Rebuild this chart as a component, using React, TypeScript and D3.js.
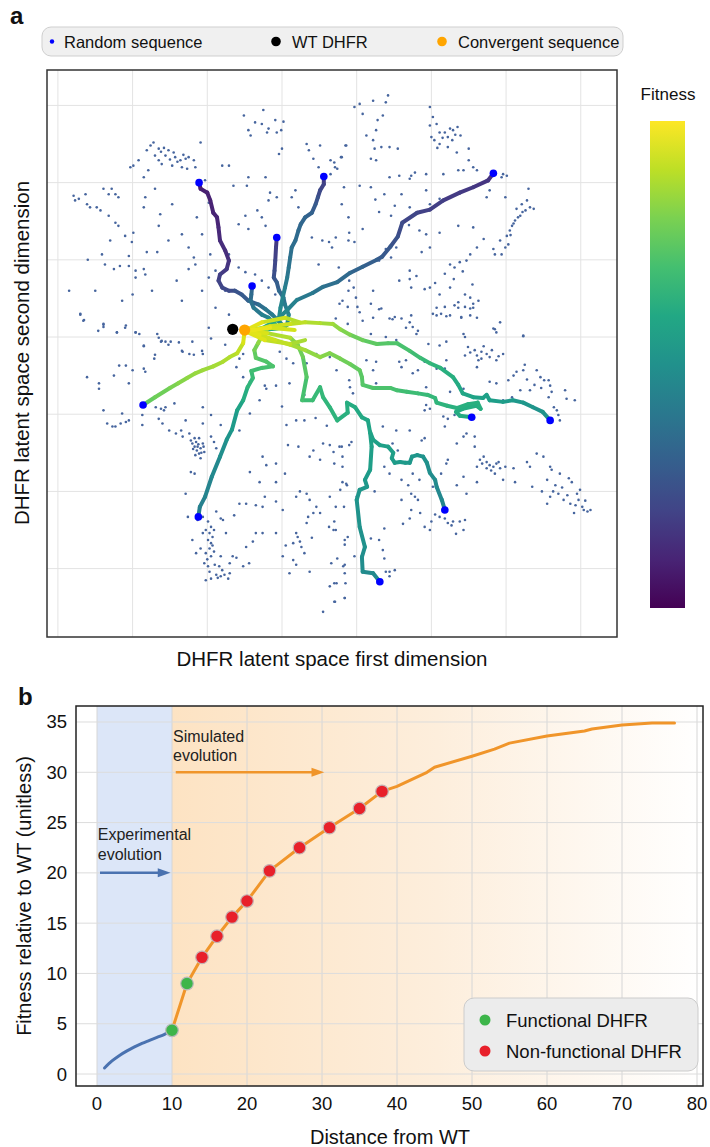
import React from 'react';
import * as d3 from 'd3';

// ---------------- Panel a data (latent-space units; grid at integer values) ----------------
const gridXA = [-3, -2, -1, 0, 1, 2, 3, 4];
const gridYA = [-3, -2, -1, 0, 1, 2, 3];

const legendALabels = ['Random sequence', 'WT DHFR', 'Convergent sequence'];

const randomSeq: [number, number][] = [
  [-0.51,2.87],[-0.25,2.94],[-0.36,2.78],[-0.27,2.76],[-0.18,2.70],[-0.09,2.81],[0.02,2.79],[-0.45,2.68],[-0.42,2.61],[-0.20,2.65],[-0.07,2.65],[-0.01,2.68],
  [-1.72,2.52],[-1.76,2.48],[-1.81,2.42],[-1.65,2.44],[-1.58,2.45],[-1.52,2.42],[-1.45,2.39],[-1.56,2.35],[-1.43,2.33],[-1.36,2.29],[-1.29,2.31],[-1.25,2.33],[-1.18,2.29],[-1.09,2.52],[-1.65,2.29],[-1.61,2.24],[-1.47,2.22],[-1.34,2.20],[-1.27,2.18],[-1.16,2.20],[-1.92,2.29],[-1.99,2.22],[-2.03,2.20],[-1.85,2.07],[-1.79,2.16],[-0.80,2.22],[-0.71,2.22],
  [-2.79,1.83],[-2.77,1.77],[-2.72,1.79],[-2.63,1.85],[-2.61,1.72],[-2.57,1.68],[-2.48,1.68],[-2.43,1.64],[-2.32,1.85],[-2.39,1.92],[-2.28,1.92],[-2.19,1.81],[-2.32,1.57],[-2.23,1.48],[-2.19,1.44],[-2.30,1.25],[-2.10,1.31],[-1.99,1.35],[-2.01,1.23],[-2.41,1.07],[-2.05,1.05],[-2.37,0.94],[-2.25,0.88],[-2.17,0.92],[-2.05,0.92],[-1.96,0.86],[-1.85,0.88],[-1.83,0.81],[-1.96,0.77],[-1.67,1.10],[-1.81,1.10],[-1.65,1.44],[-1.63,1.59],[-1.47,1.72],[-1.83,1.81],[-1.70,1.92],[-1.85,1.68],[-1.52,1.25],[-1.34,1.33],[-1.25,1.16],[-1.18,1.03],[-1.16,0.94],[-1.25,0.88],[-1.41,0.73],[-1.74,0.60],[-2.14,0.47],[-2.70,0.29],[-2.66,0.21],[-2.39,0.16],[-2.10,0.12],[-2.21,0.06],[-1.96,0.06],[-2.46,0.08],[-2.23,1.85],[-1.03,2.03],[-0.98,1.74],[-1.14,1.55],[-1.07,1.33],[-0.96,1.07],[-0.98,0.77],[-1.07,0.60],[-0.89,0.86],[-0.71,1.07],
  [-0.65,1.96],[-0.47,1.96],[-0.45,2.07],[-0.22,2.07],[-0.16,1.87],[-0.07,1.81],[-0.18,1.77],[-0.49,1.57],[-0.33,1.64],[-0.27,1.55],[-0.58,1.46],[-0.45,1.40],[-0.22,1.44],[0.00,2.44],[-0.04,2.37],[0.18,1.90],[0.13,1.81],[0.22,1.68],[0.33,2.50],[0.36,2.42],[0.42,2.31],[0.65,2.29],[0.71,2.20],[0.80,2.33],[0.85,2.48],[0.51,2.48],[0.49,2.20],[0.65,2.11],[0.83,1.94],[0.40,1.29],[0.54,1.25],[0.63,1.23],[0.67,1.16],[0.89,1.55],[0.80,1.72],[0.49,0.94],[0.89,1.25],[0.76,0.90],[0.89,0.60],[0.96,0.64],
  [-0.58,0.90],[-0.49,0.84],[-0.36,0.81],[-0.27,0.73],[-0.18,0.64],[-0.09,0.55],[-0.54,0.55],[-0.76,0.60],[-0.89,0.38],[-0.71,0.29],[-0.98,0.12],[-1.34,0.47],[-1.65,-0.01],[-1.61,-0.05],[-1.52,-0.10],[-1.38,-0.07],[-1.34,-0.18],[-1.18,-0.23],[-1.70,-0.23],[-1.85,-0.12],[-0.76,-0.10],[-1.07,-0.18],
  [0.97,2.98],[1.04,3.02],[1.08,2.89],[1.22,3.06],[1.39,3.04],[1.42,3.13],[1.35,2.87],[1.28,2.81],[1.26,2.68],[1.22,2.55],[1.24,2.44],[1.19,2.31],[1.26,2.29],[1.33,2.46],[1.44,2.46],[1.55,2.44],[1.13,2.61],[0.86,2.48],[0.79,2.33],[0.70,2.26],[0.74,2.18],
  [1.98,2.98],[2.02,2.85],[1.98,2.74],[2.07,2.76],[2.00,2.59],[2.04,2.55],[2.11,2.65],[2.18,2.65],[2.22,2.59],[2.28,2.55],[2.35,2.72],[2.39,2.61],[2.29,2.68],[2.11,2.50],[2.22,2.46],[2.34,2.39],[2.50,2.44],[2.50,2.29],[2.56,2.20],[2.61,2.16],[2.36,2.16],[2.43,2.16],[1.78,2.13],[1.93,2.11],[1.73,2.09],[1.57,2.09],[1.44,2.07],[1.71,2.05],[2.16,2.11],
  [2.94,2.07],[3.01,2.09],[2.96,2.11],[2.74,2.03],[2.78,1.90],[2.74,1.81],[2.99,1.81],[3.30,1.92],[3.21,1.72],[3.28,1.77],[3.32,1.68],[3.26,1.64],[3.19,1.57],[3.12,1.51],[3.08,1.44],[3.05,1.38],[3.01,1.31],[3.03,1.20],[2.99,1.16],[2.94,1.07],[2.85,1.07],[2.92,1.25],[3.14,1.66],[3.37,1.66],
  [1.04,1.96],[1.19,1.94],[1.37,1.85],[1.46,1.57],[1.51,1.70],[1.71,1.68],[1.93,1.90],[1.98,1.72],[2.11,1.79],[2.36,1.44],[2.56,1.42],[2.70,1.27],[2.83,1.14],[2.61,1.16],[2.52,1.07],[2.47,0.99],[2.38,0.97],[2.31,0.90],[2.25,0.94],[1.08,1.40],[0.90,1.35],[0.72,1.29],[0.97,1.23],[1.39,1.14],[1.53,1.16],[1.84,1.38],[1.93,1.33],[2.11,1.35],[1.98,1.16],[1.87,1.10],[1.46,1.03],[1.30,0.99],[1.71,0.86],[1.80,0.79],[1.57,0.73],[1.71,0.75],[1.73,0.64],[1.91,0.62],[1.98,0.64],[2.11,0.55],[2.25,0.64],[2.45,0.55],[2.52,0.51],[2.63,0.47],[2.07,0.38],[2.20,0.27],[2.36,0.38],[2.40,0.25],[2.56,0.38],[2.61,0.25],[1.22,0.60],[1.30,0.36],[1.08,0.21],[1.48,0.23],[1.66,0.12],[1.82,0.08],[2.85,0.10],[3.23,0.01],[2.92,0.19],[0.90,0.73],[0.81,0.47],[0.99,0.51],[1.22,0.25],
  [-2.70,0.30],[-2.65,0.22],[-2.39,0.17],[-2.39,0.13],[-2.21,0.06],[-2.09,0.15],[-1.96,0.06],[-1.91,0.04],[-1.67,0.04],[-1.62,-0.06],[-1.56,-0.06],[-1.49,-0.06],[-1.20,-0.06],[-1.33,-0.19],[-1.24,-0.22],[-1.06,-0.22],[-0.95,-0.02],[-1.85,-0.11],
  [-2.61,-0.52],[-2.45,-0.60],[-2.45,-0.67],[-2.25,-0.50],[-2.18,-0.37],[-2.09,-0.37],[-2.00,-0.43],[-2.05,-0.60],[-1.85,-0.41],[-1.83,-0.45],[-1.71,-0.28],[-1.44,-0.86],[-1.62,-0.93],[-1.58,-0.95],[-1.56,-0.91],[-2.39,-0.95],[-2.34,-1.12],[-2.27,-1.16],[-2.23,-1.16],[-2.16,-1.12],[-2.09,-1.10],[-2.05,-1.08],[-2.14,-0.99],[-1.87,-1.01],[-1.87,-1.14],[-1.65,-1.06],[-1.60,-1.12],[-1.69,-0.91],
  [-1.51,-1.21],[-1.42,-1.25],[-1.35,-1.21],[-1.33,-1.29],[-1.29,-1.08],[-1.24,-1.25],[-1.22,-1.34],[-1.20,-1.38],[-1.17,-1.42],[-1.15,-1.36],[-1.11,-1.31],[-1.13,-1.42],[-1.09,-1.44],[-1.06,-1.38],[-1.04,-1.49],[-1.11,-1.51],[-1.09,-1.57],[-1.17,-1.31],[-0.95,-1.29],[-0.91,-1.36],[-0.88,-1.44],[-1.22,-1.75],[-1.17,-1.77],[-1.29,-2.03],[-1.06,-1.12],[-1.06,-0.91],[-0.95,-1.01],[-0.82,-1.14],[-0.70,-1.27],[-0.57,-1.21],[-0.43,-0.99],[-0.30,-0.82],[-0.23,-0.63],[-0.08,-0.63],[-0.21,-0.67],[-0.43,-0.58],[-0.52,-0.52],[-0.57,-0.28],[-0.61,-0.39],[-0.52,-0.22],
  [-0.03,-0.19],[0.06,-0.28],[0.15,-0.34],[0.33,-0.34],[0.46,-0.22],[0.64,-0.26],[0.73,-0.43],[0.91,-0.65],[0.06,-1.14],[0.19,-1.08],[0.30,-1.08],[0.08,-1.40],[0.22,-1.42],[0.42,-1.47],[0.55,-1.38],[0.64,-1.40],[0.69,-1.49],[0.80,-1.42],[0.93,-1.36],[0.37,-1.55],[0.51,-1.59],[-0.26,-1.55],[-0.21,-1.66],[-0.43,-1.75],[-0.30,-1.88],[-0.08,-1.64],[0.04,-1.77],[-0.08,-1.88],[-0.23,-2.07],[-0.35,-2.18],[-0.26,-2.20],[-0.08,-2.13],[0.01,-2.24],[0.19,-2.07],[0.24,-2.00],[0.33,-2.03],[0.37,-2.11],[0.42,-2.28],[0.35,-2.33],[0.33,-2.41],[0.46,-2.20],[0.51,-2.28],[0.64,-2.07],[0.78,-1.98],[0.87,-1.92],[1.00,-2.07],
  [0.19,-2.54],[0.21,-2.59],[0.24,-2.65],[0.26,-2.72],[0.15,-2.67],[0.15,-2.89],[0.19,-2.95],[0.10,-3.06],[0.01,-2.84],[-0.08,-2.54],[-0.26,-2.54],[-0.35,-2.54],[-0.39,-2.65],[-0.48,-2.72],[-0.44,-2.93],[-0.52,-2.97],[-0.70,-2.93],[-0.66,-2.84],[-0.61,-2.86],[-0.79,-2.37],[-0.75,-2.54],[-0.57,-2.16],[-0.64,-2.31],[-0.48,-2.16],[-0.82,-2.84],
  [0.64,-3.23],[0.71,-3.43],[0.55,-3.56],[0.84,-3.38],[0.73,-3.19],[0.37,-3.04],[0.66,-2.93],[0.82,-2.97],[0.84,-3.06],[0.69,-2.50],[0.84,-2.63],
  [-1.06,-2.33],[-0.99,-2.39],[-0.95,-2.46],[-1.02,-2.50],[-0.97,-2.54],[-0.93,-2.59],[-0.99,-2.63],[-0.95,-2.67],[-0.97,-2.74],[-1.02,-2.80],[-0.95,-2.84],[-1.04,-2.93],[-0.99,-2.97],[-0.97,-3.04],[-0.88,-3.08],[-0.82,-3.10],[-0.77,-3.08],[-0.70,-3.06],[-0.72,-3.13],[-0.95,-3.13],[-0.84,-2.97],[-1.06,-2.54],[-0.91,-2.78],[-1.09,-2.74],[-0.82,-2.35],[-1.20,-2.63],[-1.15,-2.80],[-1.26,-2.33],[-0.91,-2.50],[-1.02,-3.15],[-0.88,-2.26],[-1.13,-2.37],
  [0.77,0.43],[0.88,0.39],[1.01,0.39],[1.19,0.43],[1.33,0.37],[1.44,0.24],[1.51,0.26],[1.60,0.24],[1.73,0.28],[1.71,0.19],[1.75,0.13],[2.02,0.30],[2.07,0.28],[2.13,0.30],[2.18,0.39],[2.25,0.28],[2.31,0.41],[2.36,0.45],[2.45,0.39],[2.52,0.37],[2.56,0.43],[2.40,0.26],[2.52,0.28],[2.83,0.11],[2.87,0.06],[3.23,0.02],[0.72,0.24],[1.04,0.32],[0.88,0.17],[1.19,0.04],[1.39,0.00],[1.53,-0.04],[1.80,0.04],[1.96,-0.09],[2.11,-0.11],[2.20,-0.06],[2.43,0.04],[2.45,0.00],
  [2.49,-0.13],[2.58,-0.17],[2.67,-0.19],[2.74,-0.22],[2.67,-0.28],[2.61,-0.24],[2.78,-0.26],[2.87,-0.30],[2.96,-0.22],[2.45,-0.24],[2.20,-0.30],[2.18,-0.41],[2.07,-0.41],[1.91,-0.32],[1.57,-0.32],[1.60,-0.39],[2.61,-0.39],[2.78,-0.58],[2.87,-0.60],[3.03,-0.56],[3.23,-0.43],[3.14,-0.45],[3.41,-0.43],[3.46,-0.52],[3.51,-0.56],[3.57,-0.56],[3.59,-0.63],[3.61,-0.71],[3.57,-0.78],[3.64,-0.91],[3.68,-0.95],[3.70,-1.01],[3.72,-1.08],[3.79,-0.69],[3.81,-0.80],[3.92,-0.82],[3.32,-0.69],[3.19,-0.69],[3.08,-0.78],[2.96,-0.82],[2.43,-0.67],[2.25,-0.71],[1.93,-0.65],[1.82,-0.43],[1.75,-0.47],
  [1.98,-0.93],[1.93,-0.88],[1.91,-0.95],[2.16,-1.03],[2.22,-1.06],[2.31,-1.01],[2.18,-1.16],[2.43,-1.29],[2.47,-1.25],[2.58,-1.29],[2.58,-1.42],[2.70,-1.55],[2.65,-1.59],[2.74,-1.62],[2.83,-1.68],[2.87,-1.64],[2.92,-1.70],[2.85,-1.77],[2.99,-1.68],[3.10,-1.70],[2.74,-1.70],[2.61,-1.68],[3.12,-1.88],[3.28,-1.62],[3.32,-1.68],[3.41,-1.51],[3.50,-1.55],[3.59,-1.68],[3.61,-1.72],[3.72,-1.77],[3.84,-1.83],[3.88,-1.88],[3.55,-1.85],[3.35,-1.94],[3.48,-2.00],[3.63,-2.00],[3.70,-2.03],[3.59,-2.07],[3.77,-2.11],[3.86,-2.16],[3.95,-2.03],[3.97,-2.11],[4.02,-2.20],[4.04,-2.24],[4.09,-2.26],[4.13,-2.24],[3.91,-2.28],[3.99,-1.98],[3.55,-2.16],[2.96,-1.85],[2.61,-1.88],[2.43,-1.81],[2.34,-1.92],[2.47,-2.03],[2.34,-1.38],[2.20,-1.64],[2.22,-1.59],[2.13,-1.77],[2.02,-1.94],
  [1.78,-2.07],[1.82,-2.11],[1.73,-2.24],[1.71,-2.35],[1.91,-2.46],[1.98,-2.50],[2.00,-2.39],[2.18,-2.35],[2.22,-2.41],[2.27,-2.44],[2.29,-2.39],[2.38,-2.39],[2.45,-2.37],[2.43,-2.50],[2.11,-2.33],[1.60,-2.11],[1.73,-2.03],[1.35,-1.16],[1.53,-1.21],[1.71,-1.21],[1.87,-1.34],[1.91,-1.31],[1.48,-1.38],[1.55,-1.47],[1.44,-1.77],[1.37,-1.68],[1.24,-2.00],[1.60,-1.85],[1.69,-1.92],[1.75,-1.77],[1.84,-1.85],[1.37,-2.48],[1.30,-2.63],[1.19,-2.61],[1.35,-2.76],[1.37,-2.87],[1.08,-2.89],[0.97,-2.84],[0.88,-2.59],[0.84,-2.69],[0.74,-2.87],[0.84,-2.95],[0.70,-3.19],[0.85,-3.19],[0.84,-3.38],[0.70,-3.43],[1.39,-3.04],[1.44,-3.04],[1.51,-3.02],[1.44,-3.10],
  [0.77,-1.42],[0.90,-1.40],[0.81,-1.55],[0.81,-1.68],[0.70,-1.64],[0.86,-1.90],[0.81,-1.88],[0.72,-2.20],[0.83,-2.20],[0.70,-2.39],[0.63,-2.46],[0.72,-2.50],[0.90,-0.56],[0.95,-0.73],[1.26,-0.60],[1.35,-0.67],[1.66,-0.30],[1.13,-0.30],[1.26,-0.32],[1.22,-0.43],
  [2.52,-0.20],[2.70,-0.12],[2.81,-0.17],[2.90,-0.25],[2.63,-0.30],[3.10,-0.50],[3.28,-0.55],[3.38,-0.62],[3.47,-0.66],[3.25,-0.36],
  [-1.14,-1.47],[-1.08,-1.50],[-1.19,-1.45],[-1.12,-1.39],[-1.05,-1.42],[-1.16,-1.53],[-0.93,-2.70],[-1.00,-2.88],[-0.90,-2.95],[-0.80,-3.02],[-0.86,-3.12],
  [-1.50,2.30],[-1.40,2.27],[-1.62,2.40],[-1.70,2.35],[-1.32,2.36],[2.15,2.58],[2.25,2.70],[2.32,2.62],[2.08,2.45],[3.16,1.55],[3.22,1.62],[3.10,1.47],[3.06,1.32],
  [3.75,-1.95],[3.82,-2.05],[3.93,-2.18],[4.06,-2.12],[3.66,-1.92],[2.78,-1.66],[2.90,-1.62],[2.80,-1.73],[2.68,-1.64],
  [2.30,0.75],[2.42,0.85],[2.18,0.82],[2.05,0.70],[2.55,0.68],[1.30,1.62],[1.60,1.85],[1.70,1.45],[1.25,1.78],
  [-2.50,0.60],[-2.60,1.00],[-2.85,0.60],[-2.00,0.55],[0.10,-0.60],[0.30,-0.75],[0.45,-1.05],[0.00,-0.90],[0.60,-1.15],
  [1.85,-2.28],[2.05,-2.30],[1.62,-2.42],[2.33,-2.55],[0.30,-2.80],[0.40,-2.60],[0.05,-2.70],
];

// trajectories: [x, y, fitness] from random start (blue dot) towards the convergent sequence
const traj1: [number, number, number][] = [
  [-1.11,2.00,0.08],[-1.09,1.92,0.08],[-1.00,1.87,0.09],[-0.96,1.77,0.09],[-0.92,1.61,0.10],[-0.87,1.55,0.10],[-0.85,1.42,0.11],[-0.83,1.25,0.12],[-0.76,1.12,0.13],[-0.71,0.99,0.14],[-0.74,0.88,0.16],[-0.83,0.81,0.18],[-0.85,0.73,0.19],[-0.80,0.64,0.21],[-0.71,0.60,0.22],[-0.63,0.60,0.24],[-0.54,0.55,0.27],[-0.45,0.47,0.30],[-0.31,0.42,0.34],[-0.22,0.36,0.38],[-0.13,0.29,0.41],[-0.07,0.23,0.43],[0.00,0.16,0.45],[0.04,0.12,0.48],[-0.20,0.10,0.72],[-0.50,0.08,0.95],
];
const traj2: [number, number, number][] = [
  [-0.40,0.66,0.32],[-0.41,0.55,0.34],[-0.42,0.47,0.36],[-0.38,0.38,0.39],[-0.27,0.29,0.42],[-0.18,0.25,0.45],[-0.09,0.16,0.48],[-0.25,0.10,0.75],[-0.50,0.08,0.95],
];
const traj3: [number, number, number][] = [
  [-0.07,1.29,0.16],[-0.08,1.16,0.18],[-0.09,0.99,0.20],[-0.10,0.86,0.23],[-0.11,0.77,0.25],[-0.07,0.71,0.28],[-0.04,0.60,0.32],[0.02,0.51,0.36],[0.04,0.42,0.40],[0.09,0.29,0.44],[0.07,0.16,0.48],[-0.20,0.11,0.72],[-0.50,0.08,0.95],
];
const traj4: [number, number, number][] = [
  [0.56,2.08,0.17],[0.56,1.98,0.19],[0.51,1.90,0.21],[0.48,1.81,0.24],[0.45,1.72,0.27],[0.40,1.61,0.30],[0.31,1.55,0.32],[0.25,1.46,0.33],[0.22,1.38,0.34],[0.18,1.25,0.35],[0.13,1.16,0.36],[0.11,1.03,0.37],[0.09,0.90,0.38],[0.07,0.77,0.40],[0.04,0.64,0.42],[0.01,0.51,0.44],[-0.02,0.38,0.46],[-0.04,0.25,0.48],[-0.02,0.12,0.50],[-0.25,0.09,0.75],[-0.50,0.08,0.95],
];
const traj5: [number, number, number][] = [
  [2.83,2.12,0.14],[2.76,2.03,0.15],[2.56,1.94,0.16],[2.38,1.87,0.17],[2.16,1.77,0.18],[1.98,1.65,0.19],[1.81,1.61,0.20],[1.61,1.48,0.22],[1.55,1.30,0.24],[1.45,1.17,0.26],[1.34,1.04,0.28],[1.27,1.00,0.29],[1.08,0.91,0.31],[0.91,0.83,0.33],[0.74,0.71,0.35],[0.55,0.65,0.37],[0.41,0.57,0.39],[0.20,0.48,0.42],[0.07,0.35,0.45],[-0.07,0.22,0.48],[-0.25,0.12,0.72],[-0.50,0.08,0.95],
];
const traj6: [number, number, number][] = [
  [-1.86,-0.88,0.76],[-1.70,-0.78,0.77],[-1.50,-0.66,0.79],[-1.39,-0.60,0.81],[-1.27,-0.53,0.83],[-1.16,-0.47,0.84],[-1.06,-0.43,0.85],[-0.92,-0.38,0.86],[-0.79,-0.32,0.87],[-0.70,-0.26,0.88],[-0.60,-0.21,0.89],[-0.52,-0.08,0.92],[-0.50,0.08,0.97],
];
const traj7: [number, number, number][] = [
  [-1.12,-2.33,0.42],[-1.10,-2.20,0.43],[-1.03,-2.07,0.44],[-0.94,-1.81,0.46],[-0.83,-1.55,0.48],[-0.74,-1.33,0.51],[-0.67,-1.20,0.53],[-0.60,-0.95,0.56],[-0.52,-0.82,0.60],[-0.46,-0.65,0.64],[-0.39,-0.53,0.67],[-0.41,-0.44,0.69],[-0.27,-0.40,0.70],[-0.12,-0.38,0.71],[-0.21,-0.32,0.72],[-0.35,-0.27,0.74],[-0.37,-0.17,0.77],[-0.32,-0.08,0.81],[-0.27,0.01,0.86],[-0.40,0.06,0.92],[-0.50,0.08,0.97],
];
const traj8: [number, number, number][] = [
  [1.31,-3.17,0.47],[1.22,-3.06,0.47],[1.08,-3.04,0.48],[1.07,-2.85,0.49],[1.11,-2.72,0.50],[1.04,-2.46,0.51],[1.00,-2.11,0.52],[1.04,-1.98,0.53],[1.14,-1.94,0.53],[1.11,-1.85,0.54],[1.18,-1.72,0.55],[1.20,-1.42,0.57],[1.18,-1.24,0.58],[1.15,-1.08,0.59],[1.07,-1.04,0.60],[0.98,-0.91,0.61],[0.87,-0.85,0.62],[0.88,-0.98,0.63],[0.74,-1.08,0.64],[0.64,-0.91,0.65],[0.55,-0.78,0.66],[0.51,-0.65,0.67],[0.41,-0.82,0.68],[0.27,-0.82,0.69],[0.33,-0.52,0.72],[0.28,-0.26,0.76],[0.21,-0.10,0.80],[0.11,-0.01,0.84],[-0.20,0.05,0.92],[-0.50,0.08,0.97],
];
const traj9: [number, number, number][] = [
  [2.18,-2.24,0.45],[2.14,-2.11,0.46],[2.07,-1.94,0.47],[2.05,-1.85,0.48],[1.98,-1.76,0.49],[1.94,-1.63,0.50],[1.89,-1.55,0.51],[1.81,-1.53,0.52],[1.74,-1.55,0.53],[1.71,-1.63,0.53],[1.65,-1.63,0.54],[1.58,-1.62,0.54],[1.51,-1.63,0.55],[1.47,-1.57,0.55],[1.49,-1.50,0.56],[1.42,-1.42,0.56],[1.31,-1.40,0.57],[1.22,-1.33,0.57],[1.18,-1.23,0.58],
];
const traj10: [number, number, number][] = [
  [2.54,-1.04,0.60],[2.38,-1.02,0.61],[2.33,-0.97,0.61],[2.42,-0.93,0.62],[2.60,-0.89,0.62],[2.66,-0.93,0.62],[2.62,-0.85,0.63],[2.49,-0.87,0.63],[2.34,-0.92,0.63],[2.21,-0.89,0.64],[2.07,-0.85,0.65],[2.05,-0.79,0.66],[1.95,-0.75,0.67],[1.82,-0.73,0.68],[1.67,-0.71,0.69],[1.54,-0.69,0.70],[1.45,-0.66,0.71],[1.22,-0.66,0.72],[1.08,-0.62,0.73],[1.07,-0.52,0.74],[1.04,-0.43,0.75],[0.91,-0.35,0.77],[0.78,-0.28,0.79],[0.64,-0.21,0.81],[0.51,-0.26,0.82],[0.31,-0.17,0.85],[0.11,-0.10,0.88],[-0.09,-0.04,0.91],[-0.30,0.03,0.94],[-0.50,0.08,0.97],
];
const traj11: [number, number, number][] = [
  [3.59,-1.08,0.50],[3.49,-0.97,0.51],[3.36,-0.91,0.52],[3.23,-0.85,0.53],[3.09,-0.82,0.54],[2.96,-0.84,0.55],[2.78,-0.82,0.56],[2.74,-0.75,0.57],[2.69,-0.79,0.57],[2.56,-0.78,0.58],[2.42,-0.73,0.59],[2.36,-0.62,0.60],[2.29,-0.52,0.62],[2.12,-0.40,0.64],[1.98,-0.34,0.66],[1.85,-0.27,0.68],[1.71,-0.18,0.70],[1.54,-0.08,0.72],[1.42,-0.08,0.73],[1.27,-0.09,0.74],[1.08,-0.04,0.76],[0.91,0.03,0.79],[0.78,0.10,0.82],[0.68,0.17,0.85],[0.51,0.18,0.87],[0.31,0.19,0.89],[0.11,0.17,0.91],[-0.16,0.14,0.94],[-0.36,0.09,0.96],[-0.50,0.08,0.97],
];
const trajectories = [traj1, traj2, traj3, traj4, traj5, traj6, traj7, traj8, traj9, traj10, traj11];

// overlapping late-stage segments around the convergent sequence (no random start)
const hub1: [number, number, number][] = [[-0.50,0.08,0.97],[-0.27,0.19,0.94],[0.04,0.25,0.90],[0.24,0.19,0.88]];
const hub2: [number, number, number][] = [[-0.50,0.08,0.97],[-0.23,-0.04,0.93],[0.11,-0.09,0.88],[0.31,-0.04,0.86]];
const hub3: [number, number, number][] = [[-0.50,0.08,0.98],[-0.16,0.12,0.95],[0.17,0.09,0.91]];
const hubPaths = [hub1, hub2, hub3];

const wtDHFR: [number, number] = [-0.66, 0.10];
const convergentSeq: [number, number] = [-0.50, 0.09];

// ---------------- Panel b data ----------------
const distExperimental = [1, 2, 3, 4, 5, 6, 7, 8, 9, 10];
const fitExperimental = [0.6, 1.3, 1.85, 2.3, 2.7, 3.05, 3.35, 3.65, 3.95, 4.35];
const distSimulated = [10, 12, 14, 16, 18, 20, 23, 27, 31, 35, 38, 40, 44, 45, 50, 53, 55, 60, 65, 66, 70, 74, 77];
const fitSimulated = [4.35, 9.0, 11.6, 13.7, 15.6, 17.2, 20.2, 22.5, 24.5, 26.4, 28.1, 28.6, 30.0, 30.5, 31.6, 32.3, 32.9, 33.6, 34.1, 34.3, 34.7, 34.9, 34.9];
const functionalDist = [10, 12];
const functionalFit = [4.35, 9.0];
const nonFunctionalDist = [14, 16, 18, 20, 23, 27, 31, 35, 38];
const nonFunctionalFit = [11.6, 13.7, 15.6, 17.2, 20.2, 22.5, 24.5, 26.4, 28.1];
const xTicksB = [0, 10, 20, 30, 40, 50, 60, 70, 80];
const yTicksB = [0, 5, 10, 15, 20, 25, 30, 35];
const legendBLabels = ['Functional DHFR', 'Non-functional DHFR'];

const FONT = "'Liberation Sans', Arial, Helvetica, sans-serif";

export default function App() {
  // Panel a scales
  const xA = d3.scaleLinear().domain([-3.146, 4.485]).range([47, 617]);
  const yA = d3.scaleLinear().domain([-3.886, 3.459]).range([637, 70]);
  const segs: { x1: number; y1: number; x2: number; y2: number; f: number; k: string }[] = [];
  [...trajectories, ...hubPaths].forEach((t, ti) => {
    for (let i = 0; i < t.length - 1; i++) {
      segs.push({ x1: xA(t[i][0]), y1: yA(t[i][1]), x2: xA(t[i + 1][0]), y2: yA(t[i + 1][1]), f: (t[i][2] + t[i + 1][2]) / 2, k: `${ti}-${i}` });
    }
  });
  segs.sort((a, b) => a.f - b.f);
  const cbStops = d3.range(0, 1.0001, 0.1);
  const cbY = d3.scaleLinear().domain([1, 0]).range([121, 608]);

  // Panel b scales
  const xB = d3.scaleLinear().domain([-2.8, 80.8]).range([76, 703]);
  const yB = d3.scaleLinear().domain([-1.19, 36.59]).range([1086, 706]);
  const line = d3.line<[number, number]>().x(d => xB(d[0])).y(d => yB(d[1])).curve(d3.curveMonotoneX);
  const expPts = distExperimental.map((d, i) => [d, fitExperimental[i]] as [number, number]);
  const simPts = distSimulated.map((d, i) => [d, fitSimulated[i]] as [number, number]);

  return (
    <div style={{ position: 'absolute', left: 0, top: 0 }}>
      <svg width={710} height={1147} style={{ display: 'block', fontFamily: FONT }}>
        <defs>
          <linearGradient id="cb" x1="0" y1="0" x2="0" y2="1">
            {cbStops.map(s => (
              <stop key={s} offset={s} stopColor={d3.interpolateViridis(1 - s)} />
            ))}
          </linearGradient>
          <linearGradient id="orangeBg" x1="0" y1="0" x2="1" y2="0">
            <stop offset="0" stopColor="#fde3c3" />
            <stop offset="0.5" stopColor="#fdeedc" />
            <stop offset="1" stopColor="#ffffff" />
          </linearGradient>
          <clipPath id="clipA"><rect x={47} y={70} width={570} height={567} /></clipPath>
          <clipPath id="clipB"><rect x={76} y={706} width={627} height={380} /></clipPath>
        </defs>
        <rect x={0} y={0} width={710} height={1147} fill="#fff" />

        {/* ---------- Panel a ---------- */}
        <text x={10} y={24} fontSize={24} fontWeight="bold" fill="#111">a</text>
        <rect x={42} y={27} width={581} height={29} rx={9} fill="#f0f0f0" stroke="#cfcfcf" />
        <circle cx={52} cy={41.5} r={2.2} fill="#0000ff" />
        <text x={64} y={47.5} fontSize={16.5} fill="#111">{legendALabels[0]}</text>
        <circle cx={276} cy={41.5} r={4.8} fill="#000" />
        <text x={292} y={47.5} fontSize={16.5} fill="#111">{legendALabels[1]}</text>
        <circle cx={442} cy={41.5} r={4.8} fill="#ffa500" />
        <text x={458} y={47.5} fontSize={16.5} fill="#111">{legendALabels[2]}</text>

        <g>
          {gridXA.map(g => (
            <line key={'gx' + g} x1={xA(g)} x2={xA(g)} y1={70} y2={637} stroke="#e3e3e3" strokeWidth={1} />
          ))}
          {gridYA.map(g => (
            <line key={'gy' + g} x1={47} x2={617} y1={yA(g)} y2={yA(g)} stroke="#e3e3e3" strokeWidth={1} />
          ))}
        </g>
        <g clipPath="url(#clipA)">
          {randomSeq.map((p, i) => (
            <circle key={'r' + i} cx={xA(p[0])} cy={yA(p[1])} r={1.3} fill="#46659e" />
          ))}
          {segs.map(s => (
            <line key={s.k} x1={s.x1} y1={s.y1} x2={s.x2} y2={s.y2} stroke={d3.interpolateViridis(s.f)} strokeWidth={4} strokeLinecap="round" />
          ))}
          {trajectories.map((t, i) => (
            <circle key={'e' + i} cx={xA(t[0][0])} cy={yA(t[0][1])} r={3.8} fill="#0000ff" />
          ))}
          <circle cx={xA(wtDHFR[0])} cy={yA(wtDHFR[1])} r={5.6} fill="#000" />
          <circle cx={xA(convergentSeq[0])} cy={yA(convergentSeq[1])} r={5.6} fill="#ffa500" />
        </g>
        <rect x={47} y={70} width={570} height={567} fill="none" stroke="#333" strokeWidth={1.5} />
        <text x={332} y={666} fontSize={20.5} textAnchor="middle" fill="#111">DHFR latent space first dimension</text>
        <text transform={`translate(29,353) rotate(-90)`} fontSize={20.5} textAnchor="middle" fill="#111">DHFR latent space second dimension</text>

        <text x={668} y={100} fontSize={17} textAnchor="middle" fill="#111">Fitness</text>
        <rect x={650} y={cbY(1)} width={35} height={cbY(0) - cbY(1)} fill="url(#cb)" />

        {/* ---------- Panel b ---------- */}
        <text x={18} y={705} fontSize={24} fontWeight="bold" fill="#111">b</text>
        <g clipPath="url(#clipB)">
          <rect x={76} y={706} width={627} height={380} fill="#fff" />
          <rect x={xB(0)} y={706} width={xB(10) - xB(0)} height={380} fill="#dce6f8" />
          <rect x={xB(10)} y={706} width={703 - xB(10)} height={380} fill="url(#orangeBg)" />
          {xTicksB.map(t => (
            <line key={'bx' + t} x1={xB(t)} x2={xB(t)} y1={706} y2={1086} stroke="#d6d6d6" strokeWidth={1} />
          ))}
          {yTicksB.map(t => (
            <line key={'by' + t} x1={76} x2={703} y1={yB(t)} y2={yB(t)} stroke="#dcdcdc" strokeWidth={1} />
          ))}
          <path d={line(expPts) || ''} fill="none" stroke="#4a72b0" strokeWidth={3} strokeLinecap="round" />
          <path d={d3.line<[number, number]>().x(d => xB(d[0])).y(d => yB(d[1]))(simPts) || ''} fill="none" stroke="#f0952a" strokeWidth={3} strokeLinecap="round" strokeLinejoin="round" />
          {functionalDist.map((d, i) => (
            <circle key={'g' + i} cx={xB(d)} cy={yB(functionalFit[i])} r={6.3} fill="#3db54a" stroke="#b9b9b9" strokeWidth={1.2} />
          ))}
          {nonFunctionalDist.map((d, i) => (
            <circle key={'n' + i} cx={xB(d)} cy={yB(nonFunctionalFit[i])} r={6.3} fill="#e8202a" stroke="#c4b4b4" strokeWidth={1.2} />
          ))}
          {/* annotations */}
          <text x={xB(10) + 1} y={yB(33)} fontSize={16} fill="#222">Simulated</text>
          <text x={xB(10) + 1} y={yB(31.1)} fontSize={16} fill="#222">evolution</text>
          <line x1={xB(10.5)} y1={yB(30)} x2={xB(29.3)} y2={yB(30)} stroke="#f0952a" strokeWidth={2.5} />
          <path d={`M${xB(30.3)},${yB(30)} L${xB(28.6)},${yB(30) - 4.5} L${xB(28.6)},${yB(30) + 4.5} Z`} fill="#f0952a" />
          <text x={xB(0.1)} y={yB(23.3)} fontSize={16} fill="#222">Experimental</text>
          <text x={xB(0.1)} y={yB(21.3)} fontSize={16} fill="#222">evolution</text>
          <line x1={xB(0.4)} y1={yB(20)} x2={xB(8.8)} y2={yB(20)} stroke="#4a72b0" strokeWidth={2.5} />
          <path d={`M${xB(9.8)},${yB(20)} L${xB(8.1)},${yB(20) - 4.5} L${xB(8.1)},${yB(20) + 4.5} Z`} fill="#4a72b0" />
          {/* legend */}
          <rect x={464} y={998} width={234} height={73} rx={10} fill="#ececec" stroke="#cccccc" />
          <circle cx={485} cy={1020} r={5.5} fill="#3db54a" />
          <text x={506} y={1026.5} fontSize={18.5} fill="#111">{legendBLabels[0]}</text>
          <circle cx={485} cy={1051} r={5.5} fill="#e8202a" />
          <text x={506} y={1057.5} fontSize={18.5} fill="#111">{legendBLabels[1]}</text>
        </g>
        <rect x={76} y={706} width={627} height={380} fill="none" stroke="#222" strokeWidth={1.5} />
        {xTicksB.map(t => (
          <text key={'xl' + t} x={xB(t)} y={1110} fontSize={18.5} textAnchor="middle" fill="#111">{t}</text>
        ))}
        {yTicksB.map(t => (
          <text key={'yl' + t} x={67} y={yB(t) + 6.5} fontSize={18.5} textAnchor="end" fill="#111">{t}</text>
        ))}
        <text x={390} y={1144} fontSize={20} textAnchor="middle" fill="#111">Distance from WT</text>
        <text transform={`translate(31,896) rotate(-90)`} fontSize={20} textAnchor="middle" fill="#111">Fitness relative to WT (unitless)</text>
      </svg>
    </div>
  );
}
